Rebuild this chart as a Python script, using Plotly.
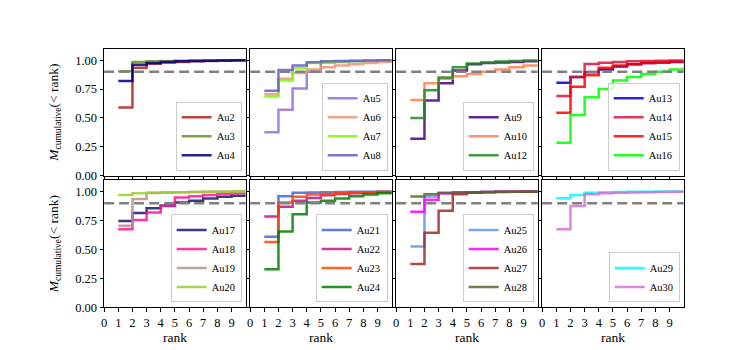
import plotly.graph_objects as go

# cumulative mass fraction vs rank, one list per halo (ranks 1..10)
ranks = [1, 2, 3, 4, 5, 6, 7, 8, 9, 10]

au2 = [0.59, 0.935, 0.97, 0.98, 0.985, 0.99, 0.993, 0.996, 0.998, 1.0]
au3 = [0.905, 0.985, 0.99, 0.993, 0.995, 0.997, 0.998, 0.999, 1.0, 1.0]
au4 = [0.82, 0.96, 0.975, 0.985, 0.99, 0.993, 0.995, 0.997, 0.999, 1.0]

au5 = [0.375, 0.57, 0.755, 0.90, 0.98, 0.985, 0.99, 0.993, 0.997, 1.0]
au6 = [0.705, 0.84, 0.89, 0.92, 0.94, 0.955, 0.965, 0.975, 0.985, 0.99]
au7 = [0.685, 0.825, 0.93, 0.975, 0.985, 0.99, 0.993, 0.996, 0.998, 1.0]
au8 = [0.735, 0.915, 0.955, 0.982, 0.99, 0.993, 0.995, 0.997, 0.999, 1.0]

au9 = [0.32, 0.65, 0.80, 0.91, 0.965, 0.975, 0.98, 0.985, 0.99, 0.995]
au10 = [0.655, 0.80, 0.84, 0.86, 0.88, 0.90, 0.92, 0.94, 0.955, 0.965]
au12 = [0.50, 0.74, 0.85, 0.94, 0.972, 0.98, 0.988, 0.993, 0.997, 1.0]

au13 = [0.805, 0.855, 0.895, 0.92, 0.945, 0.965, 0.975, 0.98, 0.985, 0.99]
au14 = [0.69, 0.855, 0.968, 0.978, 0.985, 0.99, 0.993, 0.996, 0.998, 1.0]
au15 = [0.545, 0.77, 0.87, 0.935, 0.955, 0.965, 0.975, 0.98, 0.988, 0.995]
au16 = [0.285, 0.525, 0.68, 0.75, 0.825, 0.855, 0.88, 0.90, 0.92, 0.94]

au17 = [0.745, 0.815, 0.855, 0.88, 0.905, 0.92, 0.94, 0.955, 0.963, 0.97]
au18 = [0.675, 0.755, 0.82, 0.875, 0.948, 0.96, 0.97, 0.978, 0.985, 0.99]
au19 = [0.705, 0.935, 0.988, 0.992, 0.995, 0.997, 0.998, 0.999, 1.0, 1.0]
au20 = [0.97, 0.985, 0.99, 0.993, 0.995, 0.997, 0.998, 0.999, 1.0, 1.0]

au21 = [0.61, 0.96, 0.99, 0.993, 0.995, 0.997, 0.998, 0.999, 1.0, 1.0]
au22 = [0.785, 0.87, 0.92, 0.945, 0.968, 0.978, 0.985, 0.99, 0.995, 1.0]
au23 = [0.565, 0.905, 0.955, 0.975, 0.98, 0.985, 0.99, 0.995, 0.998, 1.0]
au24 = [0.33, 0.655, 0.805, 0.905, 0.92, 0.94, 0.96, 0.975, 0.985, 0.99]

au25 = [0.525, 0.957, 0.985, 0.99, 0.995, 0.997, 0.998, 0.999, 1.0, 1.0]
au26 = [0.825, 0.93, 0.985, 0.992, 0.995, 0.997, 0.998, 0.999, 1.0, 1.0]
au27 = [0.375, 0.645, 0.835, 0.977, 0.99, 0.995, 0.997, 0.998, 0.999, 1.0]
au28 = [0.957, 0.977, 0.99, 0.993, 0.995, 0.997, 0.998, 0.999, 1.0, 1.0]

au29 = [0.942, 0.97, 0.99, 0.995, 0.997, 0.998, 0.999, 1.0, 1.0, 1.0]
au30 = [0.675, 0.875, 0.977, 0.985, 0.99, 0.993, 0.995, 0.997, 0.999, 1.0]

threshold = 0.9
y_ticks = [0, 0.25, 0.5, 0.75, 1.0]
x_ticks = list(range(10))

panels = [
    [("Au2", au2), ("Au3", au3), ("Au4", au4)],
    [("Au5", au5), ("Au6", au6), ("Au7", au7), ("Au8", au8)],
    [("Au9", au9), ("Au10", au10), ("Au12", au12)],
    [("Au13", au13), ("Au14", au14), ("Au15", au15), ("Au16", au16)],
    [("Au17", au17), ("Au18", au18), ("Au19", au19), ("Au20", au20)],
    [("Au21", au21), ("Au22", au22), ("Au23", au23), ("Au24", au24)],
    [("Au25", au25), ("Au26", au26), ("Au27", au27), ("Au28", au28)],
    [("Au29", au29), ("Au30", au30)],
]

colors = {
    "Au2": "#B22222", "Au3": "#6B8E23", "Au4": "#000080",
    "Au5": "#9370DB", "Au6": "#E9967A", "Au7": "#7CFC00", "Au8": "#6A5ACD",
    "Au9": "#4B0082", "Au10": "#FF7F50", "Au12": "#228B22",
    "Au13": "#0000CD", "Au14": "#DC143C", "Au15": "#FF0000", "Au16": "#00FF00",
    "Au17": "#191970", "Au18": "#FF1493", "Au19": "#BC8F8F", "Au20": "#9ACD32",
    "Au21": "#4169E1", "Au22": "#C71585", "Au23": "#FF4500", "Au24": "#008000",
    "Au25": "#6495ED", "Au26": "#FF00FF", "Au27": "#A52A2A", "Au28": "#556B2F",
    "Au29": "#00FFFF", "Au30": "#DA70D6",
}

W, H = 750, 350
SERIF = "Liberation Serif, Times New Roman, serif"

# panel geometry in pixels
col_left = [93.5, 240.1, 386.7, 533.3]
col_w = 142.1
row_top = [41.5, 175.5]
row_h = [129.5, 130.0]

fig = go.Figure()
layout = dict(
    width=W, height=H,
    margin=dict(l=0, r=0, t=0, b=0),
    paper_bgcolor="white", plot_bgcolor="white",
    font=dict(family=SERIF, size=12.5, color="black"),
    shapes=[],
)

for i, group in enumerate(panels):
    r, c = divmod(i, 4)
    n = i + 1
    xa = "x" if n == 1 else f"x{n}"
    ya = "y" if n == 1 else f"y{n}"
    leg = "legend" if n == 1 else f"legend{n}"

    x0 = col_left[c] / W
    x1 = (col_left[c] + col_w) / W
    y1 = 1 - row_top[r] / H
    y0 = 1 - (row_top[r] + row_h[r]) / H

    for name, vals in group:
        fig.add_trace(go.Scatter(
            x=ranks, y=vals, mode="lines", name=name,
            line=dict(color=colors[name], width=2.5, shape="hv"),
            opacity=0.85, xaxis=xa, yaxis=ya, legend=leg,
        ))

    axis_common = dict(showline=True, mirror=True, linecolor="black", linewidth=1.2,
                       ticks="outside", ticklen=3.5, tickwidth=1, tickcolor="black",
                       showgrid=False, zeroline=False, tickfont=dict(size=12.5))
    layout["xaxis" if n == 1 else f"xaxis{n}"] = dict(
        domain=[x0, x1], range=[0, 10], anchor=ya,
        tickvals=x_ticks, showticklabels=(r == 1),
        title=dict(text="rank", font=dict(size=13.5), standoff=0) if r == 1 else None,
        **axis_common,
    )
    layout["yaxis" if n == 1 else f"yaxis{n}"] = dict(
        domain=[y0, y1], range=[0, 1.1], anchor=xa,
        tickvals=y_ticks, ticktext=[f"{v:.2f}" for v in y_ticks],
        showticklabels=(c == 0),
        title=dict(text="<i>M</i><sub>cumulative</sub>(&lt; rank)", font=dict(size=13.5),
                   standoff=13) if c == 0 else None,
        **axis_common,
    )
    layout[leg] = dict(
        x=x1 - 4 / W, y=y0 + 5 / H, xanchor="right", yanchor="bottom",
        bgcolor="rgba(255,255,255,0.8)", bordercolor="#cccccc", borderwidth=1,
        font=dict(family=SERIF, size=10.5), tracegroupgap=0, itemwidth=30,
    )
    layout["shapes"].append(dict(
        type="line", xref=f"{xa} domain", yref=ya, x0=0, x1=1, y0=threshold, y1=threshold,
        line=dict(color="gray", width=2.5, dash="10px,5px"),
    ))

fig.update_layout(**layout)
fig.write_html("out.html")
